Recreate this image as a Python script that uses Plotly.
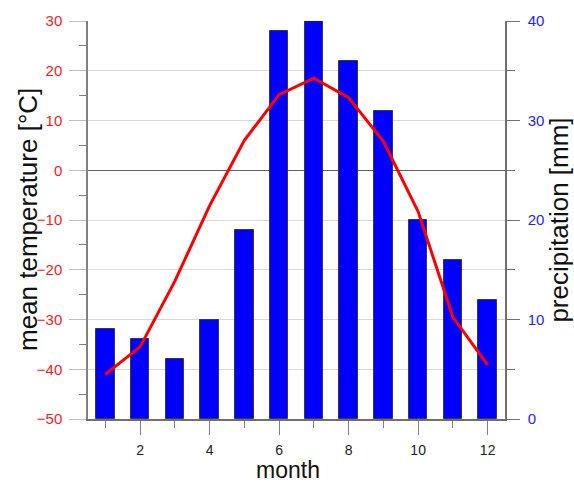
import plotly.graph_objects as go

# Monthly climate data
months = [1, 2, 3, 4, 5, 6, 7, 8, 9, 10, 11, 12]
precipitation_mm = [9, 8, 6, 10, 19, 39, 40, 36, 31, 20, 16, 12]
mean_temperature_c = [-41.0, -35.5, -22.3, -7.1, 6.0, 15.2, 18.5, 14.6, 5.8, -8.3, -29.5, -39.1]

temp_ticks = [-50, -40, -30, -20, -10, 0, 10, 20, 30]
precip_ticks = [0, 10, 20, 30, 40]
month_ticks = [2, 4, 6, 8, 10, 12]

FONT = "Arial, Liberation Sans, sans-serif"

fig = go.Figure()

# Precipitation bars on the primary (right-hand) axis
fig.add_trace(go.Bar(
    x=months, y=precipitation_mm, yaxis="y", width=0.53,
    marker=dict(color="#0000ff", line=dict(color="#3a3a3a", width=1)),
    showlegend=False,
))

# Temperature curve on the overlaid left-hand axis, drawn above the bars
fig.add_trace(go.Scatter(
    x=months, y=mean_temperature_c, yaxis="y2", mode="lines",
    line=dict(color="#ff0000", width=3),
    showlegend=False,
))

fig.update_layout(
    width=574, height=484,
    margin=dict(l=88, r=69, t=21, b=65),
    paper_bgcolor="white", plot_bgcolor="white",
    font=dict(family=FONT, size=15, color="#222222"),
    bargap=0,
    xaxis=dict(
        range=[0.5, 12.5], automargin=False,
        tickmode="array", tickvals=month_ticks,
        ticks="outside", ticklen=14, tickcolor="#808080", tickwidth=1,
        minor=dict(dtick=1, tick0=0, ticks="outside", ticklen=7, tickcolor="#808080"),
        showgrid=False, zeroline=False,
        showline=True, linecolor="#707070", linewidth=1.5,
        tickfont=dict(size=14, color="#222222"),
        ticklabelstandoff=3,
    ),
    yaxis=dict(
        side="right", automargin=False,
        range=[0, 40],
        tickmode="array", tickvals=precip_ticks,
        ticks="outside", ticklen=13, tickcolor="#707070", tickwidth=1,
        minor=dict(dtick=5, tick0=0, ticks="outside", ticklen=8, tickcolor="#707070"),
        showgrid=False, zeroline=False,
        showline=True, linecolor="#707070", linewidth=1.5,
        tickfont=dict(size=15, color="#2323ff"),
        ticklabelstandoff=5,
        title=dict(text="precipitation [mm]", font=dict(size=26, color="#111111"), standoff=10),
    ),
    yaxis2=dict(
        overlaying="y", side="left", automargin=False,
        range=[-50, 30],
        tickmode="array", tickvals=temp_ticks,
        ticks="outside", ticklen=17, tickcolor="#c0c0c0", tickwidth=1,
        minor=dict(dtick=5, tick0=0, ticks="outside", ticklen=7, tickcolor="#808080"),
        showgrid=True, gridcolor="#d9d9d9", gridwidth=1,
        zeroline=True, zerolinecolor="#606060", zerolinewidth=1,
        showline=True, linecolor="#808080", linewidth=1.5,
        tickfont=dict(size=15, color="#ff1a1a"),
        ticklabelstandoff=4,
    ),
)

# Axis captions for temperature and month
fig.add_annotation(
    text="mean temperature [°C]", xref="paper", yref="paper",
    x=0, y=0.5, xanchor="center", yanchor="middle", xshift=-60,
    textangle=-90, showarrow=False, borderpad=0,
    font=dict(size=26, color="#111111"),
)
fig.add_annotation(
    text="month", xref="paper", yref="paper",
    x=0.4796, y=0, xanchor="center", yanchor="middle", yshift=-51,
    showarrow=False, borderpad=0,
    font=dict(size=23, color="#111111"),
)

fig.write_html("out.html")
